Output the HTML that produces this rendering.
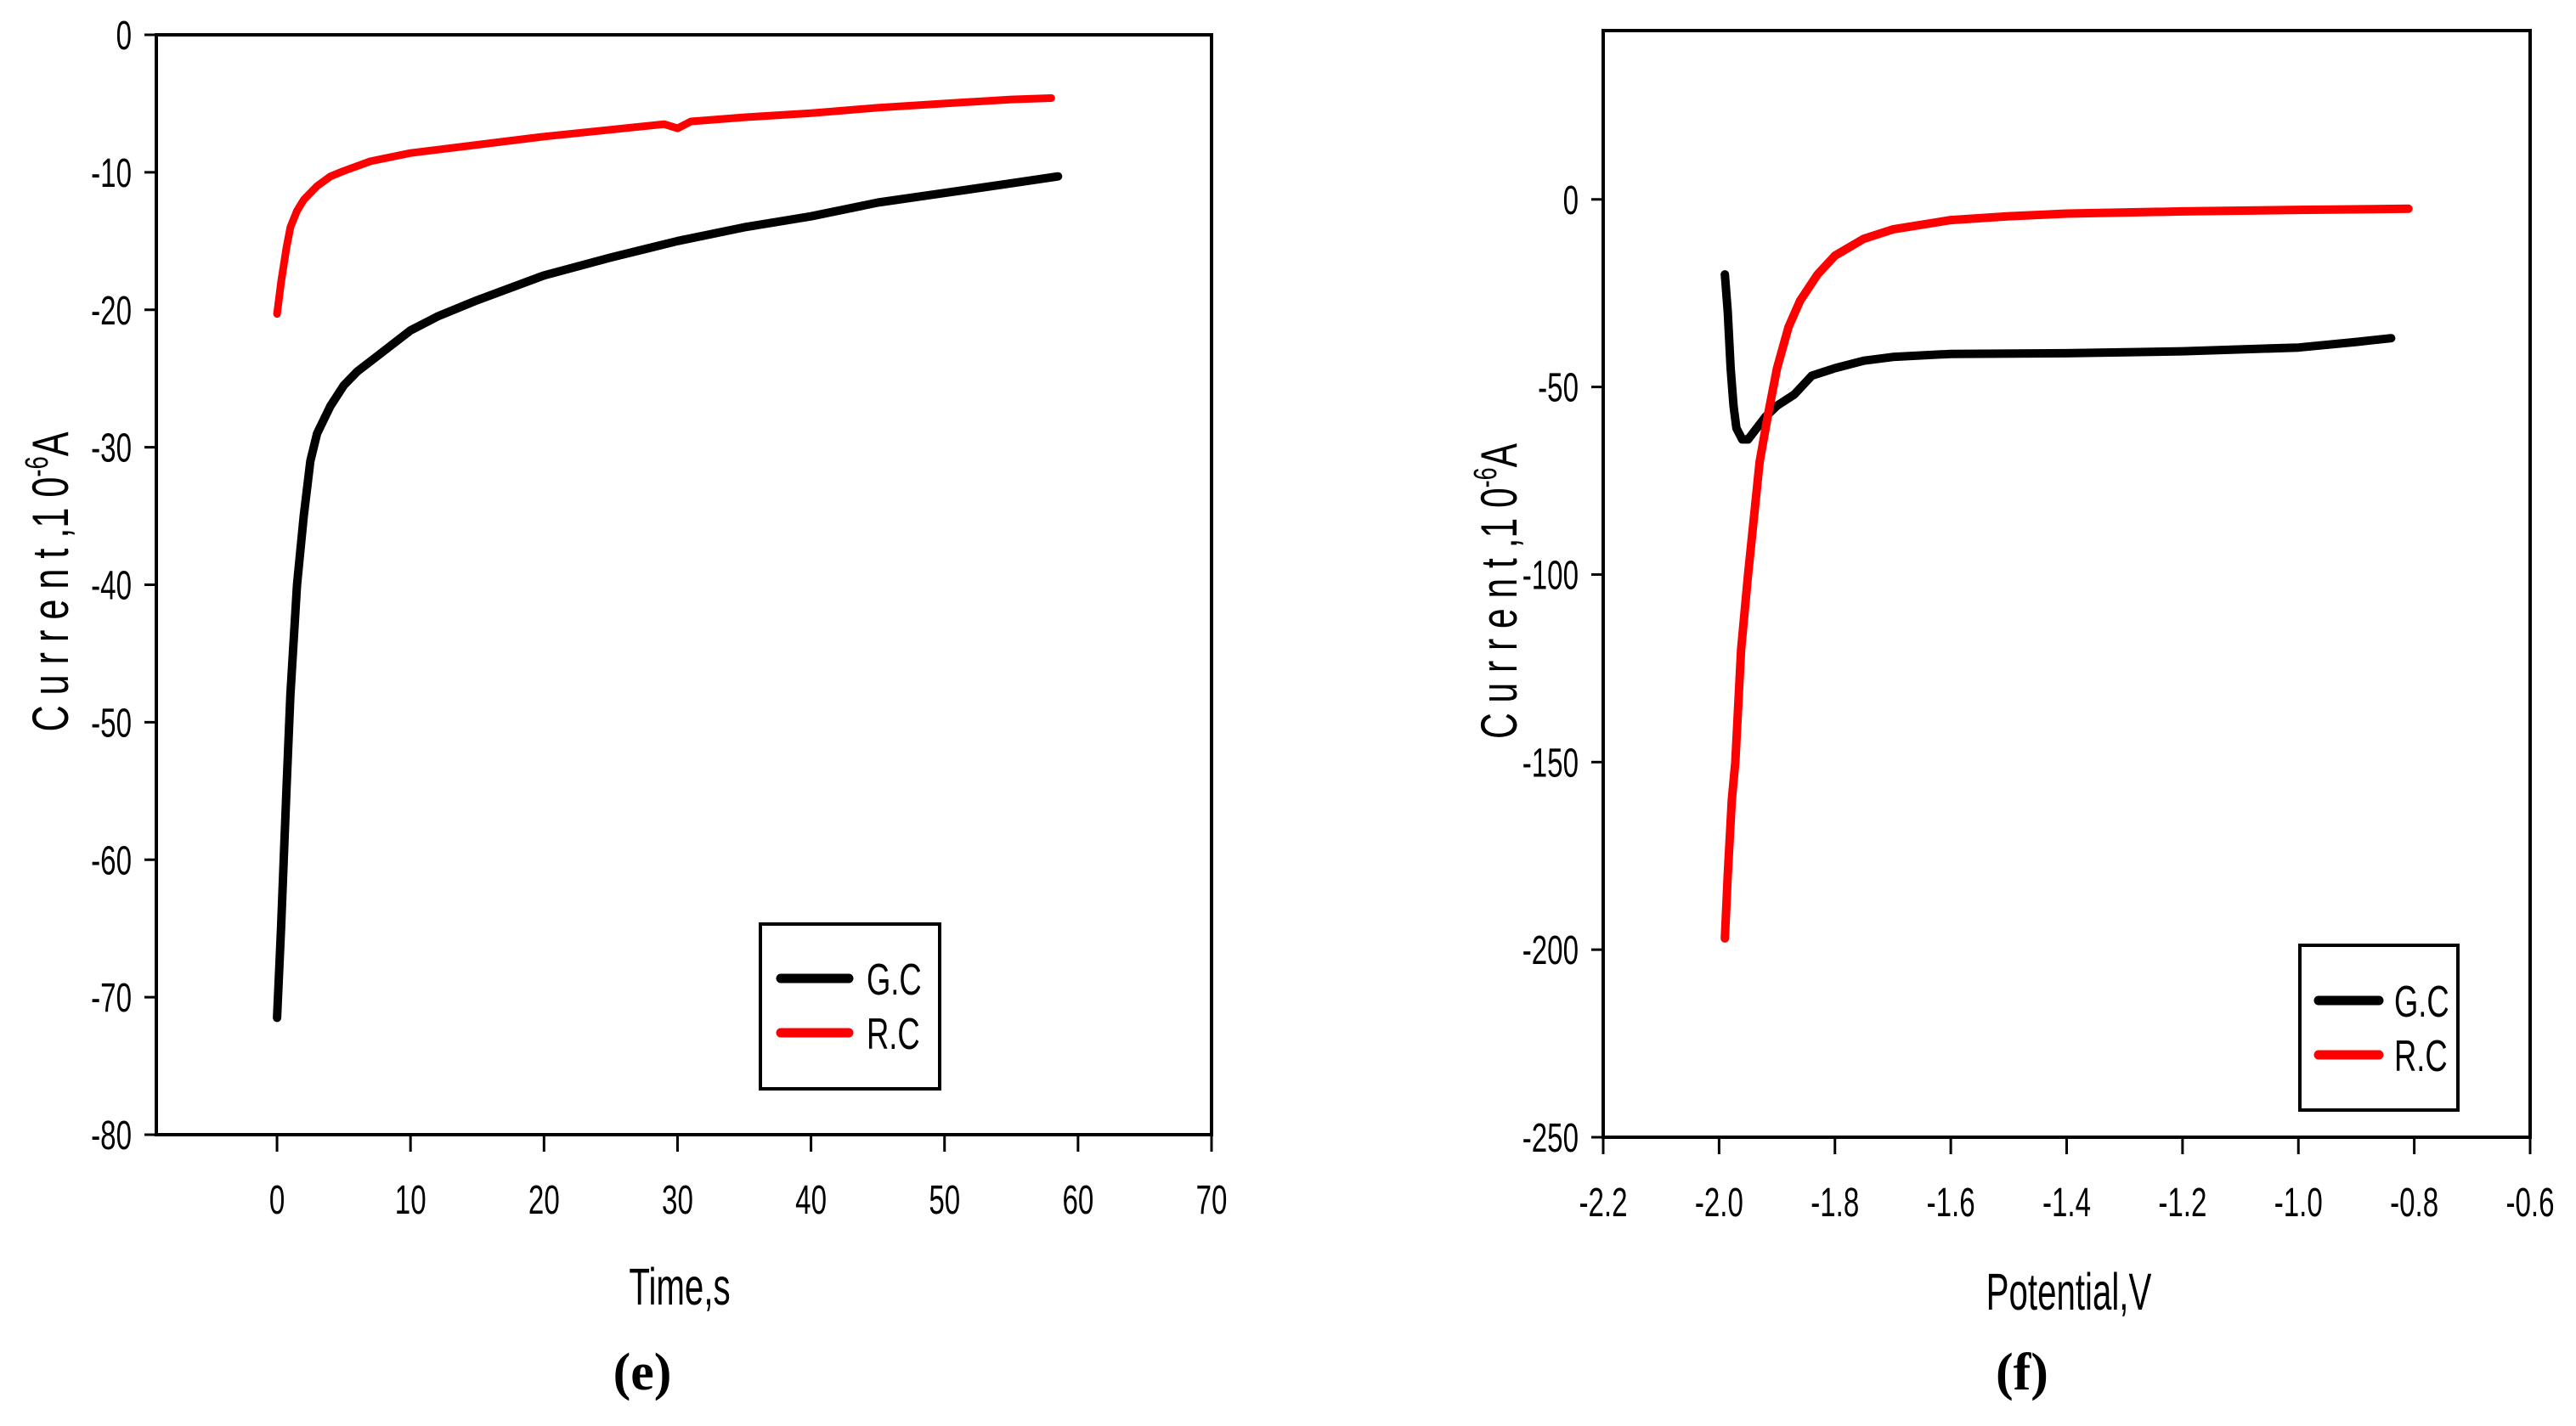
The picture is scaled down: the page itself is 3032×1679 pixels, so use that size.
<!DOCTYPE html>
<html><head><meta charset="utf-8"><style>html,body{margin:0;padding:0;background:#fff}svg{display:block}</style></head>
<body>
<svg id="fig" width="3032" height="1679" viewBox="0 0 3032 1679" xmlns="http://www.w3.org/2000/svg" font-family="Liberation Sans, sans-serif"></svg>
<script>
// Panel (e) data
const eXTicks=[0,10,20,30,40,50,60,70];
const eYTicks=[0,-10,-20,-30,-40,-50,-60,-70,-80];
const eGcT=[0,0.3,0.7,1,1.5,2,2.5,3,4,5,6,8,10,12,15,20,25,30,35,40,45,50,55,58.5];
const eGcI=[-71.5,-65,-55,-48,-40,-35,-31,-29,-27,-25.5,-24.5,-23,-21.5,-20.5,-19.3,-17.5,-16.2,-15,-14,-13.2,-12.2,-11.5,-10.8,-10.3];
const eRcT=[0,0.3,0.7,1,1.5,2,3,4,5,7,10,15,20,25,29,30,31,35,40,45,50,55,58];
const eRcI=[-20.3,-18,-15.5,-14,-12.8,-12,-11,-10.3,-9.9,-9.2,-8.6,-8.0,-7.4,-6.9,-6.5,-6.8,-6.3,-6.0,-5.7,-5.3,-5.0,-4.7,-4.6];
// Panel (f) data
const fXTicks=[-2.2,-2.0,-1.8,-1.6,-1.4,-1.2,-1.0,-0.8,-0.6];
const fXLabels=["-2.2","-2.0","-1.8","-1.6","-1.4","-1.2","-1.0","-0.8","-0.6"];
const fYTicks=[0,-50,-100,-150,-200,-250];
const fGcV=[-1.99,-1.985,-1.98,-1.975,-1.97,-1.96,-1.95,-1.94,-1.92,-1.9,-1.87,-1.84,-1.8,-1.75,-1.7,-1.6,-1.4,-1.2,-1.0,-0.9,-0.84];
const fGcI=[-20,-30,-45,-55,-61,-64,-64,-62,-58,-55,-52,-47,-45,-43,-42,-41.2,-41,-40.5,-39.5,-38,-37];
const fRcV=[-1.99,-1.985,-1.978,-1.972,-1.962,-1.95,-1.94,-1.93,-1.915,-1.9,-1.88,-1.86,-1.83,-1.8,-1.75,-1.7,-1.6,-1.5,-1.4,-1.2,-1.0,-0.81];
const fRcI=[-197,-180,-160,-150,-120,-100,-85,-70,-57,-45,-34,-27,-20,-15,-10.5,-8,-5.5,-4.5,-3.8,-3.2,-2.8,-2.5];

const svg=document.getElementById('fig');
const NS='http://www.w3.org/2000/svg';
function el(tag,attrs,parent){const e=document.createElementNS(NS,tag);for(const k in attrs)e.setAttribute(k,attrs[k]);(parent||svg).appendChild(e);return e;}
function txt(s,x,y,size,anchor,parent,sx){const t=el('text',{x:0,y:0,'font-size':size,'text-anchor':anchor,fill:'#000',transform:`translate(${x},${y}) scale(${sx||0.69},1)`},parent);t.textContent=s;return t;}

function panel(cfg){
  const g=el('g',{});
  
  
  const X=v=>cfg.L+(v-cfg.x0)/(cfg.x1-cfg.x0)*(cfg.R-cfg.L);
  const Y=v=>cfg.T+(cfg.y1-v)/(cfg.y1-cfg.y0)*(cfg.B-cfg.T);
  const box=el('rect',{x:cfg.L,y:cfg.T,width:cfg.R-cfg.L,height:cfg.B-cfg.T,fill:'none',stroke:'#000','stroke-width':4},g);
  
  
  cfg.xt.forEach((v,i)=>{
    const x=X(v);
    const tk=el('line',{x1:x,y1:cfg.B,x2:x,y2:cfg.B+20,stroke:'#000','stroke-width':3},g);
    
    
    const t=txt(cfg.xl?cfg.xl[i]:String(v),x,cfg.B+93,48,'middle',g);
    
    
  });
  cfg.yt.forEach(v=>{
    const y=Y(v);
    const tk=el('line',{x1:cfg.L-14,y1:y,x2:cfg.L,y2:y,stroke:'#000','stroke-width':3},g);
    
    
    const t=txt(String(v),cfg.L-29,y+17,48,'end',g);
    
    
  });
  cfg.series.forEach(s=>{
    const d=s.x.map((v,i)=>(i?'L':'M')+X(v).toFixed(1)+','+Y(s.y[i]).toFixed(1)).join(' ');
    const p=el('path',{d:d,fill:'none',stroke:s.c,'stroke-width':s.w,'stroke-linejoin':'round','stroke-linecap':'round'},g);
    
    
  });
  const lg=el('g',{},g);
  
  
  const Lg=cfg.leg;
  el('rect',{x:Lg.x,y:Lg.y,width:Lg.w,height:Lg.h,fill:'#fff',stroke:'#000','stroke-width':4},lg);
  cfg.series.forEach((s,i)=>{
    const ly=Lg.ly[i];
    const ent=el('g',{},lg);
    
    
    el('line',{x1:Lg.lx0,y1:ly,x2:Lg.lx1,y2:ly,stroke:s.c,'stroke-width':11,'stroke-linecap':'round'},ent);
    txt(s.label,Lg.tx,ly+19,52,'start',ent,0.7);
  });
  const xt=txt(cfg.xtitle,cfg.xtx,cfg.xty,61,'middle',g,0.66);
  
  
  const yt=el('text',{x:0,y:0,'font-size':60,'text-anchor':'middle',textLength:cfg.ylen,lengthAdjust:'spacingAndGlyphs',transform:`translate(${cfg.ytx},${cfg.yty}) rotate(-90)`},g);
  
  
  yt.innerHTML='C u r r e n t ,1 0<tspan dy="-24" font-size="38">-6</tspan><tspan dy="24">A</tspan>';
  const cap=el('text',{x:cfg.capx,y:cfg.capy,'font-size':62,'font-weight':'bold','text-anchor':'middle','font-family':'Liberation Serif, serif'},g);
  
  
  cap.textContent=cfg.cap;
}

panel({name:'chart-e',L:184,R:1426,T:41,B:1336,x0:-9.04,x1:70,y0:-80,y1:0,
  xt:eXTicks,yt:eYTicks,
  series:[{n:'series-gc',label:'G.C',x:eGcT,y:eGcI,c:'#000',w:10},{n:'series-rc',label:'R.C',x:eRcT,y:eRcI,c:'#f00',w:9}],
  leg:{x:895,y:1088,w:211,h:194,ly:[1152,1216],lx0:919,lx1:999,tx:1020},
  xtitle:'Time,s',xtx:800,xty:1536,ytx:80,yty:685,ylen:353,cap:'(e)',capx:756,capy:1636});
panel({name:'chart-f',L:1887,R:2978,T:36,B:1339,x0:-2.2,x1:-0.6,y0:-250,y1:45,
  xt:fXTicks,xl:fXLabels,yt:fYTicks,
  series:[{n:'series-gc',label:'G.C',x:fGcV,y:fGcI,c:'#000',w:10},{n:'series-rc',label:'R.C',x:fRcV,y:fRcI,c:'#f00',w:10}],
  leg:{x:2707,y:1113,w:186,h:194,ly:[1178,1242],lx0:2729,lx1:2800,tx:2818},
  xtitle:'Potential,V',xtx:2435,xty:1542,ytx:1785,yty:696,ylen:348,cap:'(f)',capx:2380,capy:1636});
</script>
</body></html>
